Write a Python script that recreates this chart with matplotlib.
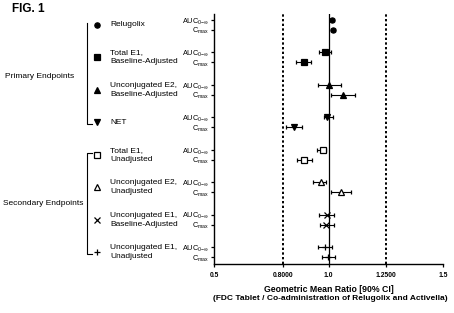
import matplotlib
matplotlib.use('Agg')
import matplotlib.pyplot as plt
import matplotlib.transforms as mtransforms

plt.rcParams['font.family'] = ['Liberation Sans', 'DejaVu Sans']
plt.rcParams['mathtext.fontset'] = 'custom'
plt.rcParams['mathtext.rm'] = 'Liberation Sans'
plt.rcParams['mathtext.it'] = 'Liberation Sans:italic'
plt.rcParams['mathtext.bf'] = 'Liberation Sans:bold'

# endpoints (one group each, AUC then Cmax)
names = ['Relugolix', 'Total E1,\nBaseline-Adjusted', 'Unconjugated E2,\nBaseline-Adjusted',
         'NET', 'Total E1,\nUnadjusted', 'Unconjugated E2,\nUnadjusted',
         'Unconjugated E1,\nBaseline-Adjusted', 'Unconjugated E1,\nUnadjusted']
markers = ['o', 's', '^', 'v', 's', '^', 'x', '+']
filled = [True, True, True, True, False, False, True, True]

auc_gmr = [1.014, 0.985, 1.002, 0.995, 0.977, 0.966, 0.992, 0.986]
auc_lo  = [1.006, 0.960, 0.955, 0.982, 0.950, 0.934, 0.957, 0.953]
auc_hi  = [1.022, 1.011, 1.056, 1.018, 0.989, 0.990, 1.025, 1.014]
cmax_gmr = [1.021, 0.894, 1.063, 0.848, 0.894, 1.055, 0.990, 0.999]
cmax_lo  = [1.012, 0.858, 1.011, 0.813, 0.864, 1.010, 0.963, 0.972]
cmax_hi  = [1.030, 0.924, 1.114, 0.886, 0.927, 1.098, 1.023, 1.028]

xticks = [0.5, 0.8, 1.0, 1.25, 1.5]
xticklabels = ['0.5', '0.8000', '1.0', '1.2500', '1.5']

W, H = 454, 313
fig = plt.figure(figsize=(W / 100, H / 100), dpi=100)
ax = fig.add_axes([214 / W, 1 - 264 / H, (443 - 214) / W, (264 - 14) / H])

pitch = 3.3
y_auc = [i * pitch for i in range(len(names))]
y_cmax = [y + 1 for y in y_auc]
y_mid = [y + 0.5 for y in y_auc]

for i in range(len(names)):
    fc = 'black' if filled[i] else 'white'
    for y, g, lo, hi in [(y_auc[i], auc_gmr[i], auc_lo[i], auc_hi[i]),
                         (y_cmax[i], cmax_gmr[i], cmax_lo[i], cmax_hi[i])]:
        ax.errorbar(g, y, xerr=[[g - lo], [hi - g]], fmt=markers[i], color='black',
                    mfc=fc, mec='black', ms=3.7, mew=0.9, elinewidth=0.8,
                    capsize=1.5, capthick=0.8, zorder=3)

ax.axvline(1.0, color='black', lw=0.9, zorder=2)
for xv in [0.8, 1.25]:
    ax.axvline(xv, color='black', lw=1.4, ls=(0, (1.2, 1.2)), zorder=1)

ax.set_xlim(0.5, 1.5)
ax.set_ylim(24.8, -0.6)
ax.set_xticks(xticks)
ax.set_xticklabels(xticklabels, fontsize=4.9, fontweight='bold')
yt = []
ytl = []
for i in range(len(names)):
    yt += [y_auc[i], y_cmax[i]]
    ytl += [r'AUC$_{0\mathrm{-}\infty}$', r'C$_{\mathrm{max}}$']
ax.set_yticks(yt)
ax.set_yticklabels(ytl, fontsize=5.3)
ax.tick_params(axis='both', length=2.5, width=0.9, pad=1.2)
ax.tick_params(axis='x', pad=3.5)
for s in ['top', 'right']:
    ax.spines[s].set_visible(False)
for s in ['left', 'bottom']:
    ax.spines[s].set_linewidth(1.0)

# labels on the left side
tr = mtransforms.blended_transform_factory(fig.transFigure, ax.transData)
for i in range(len(names)):
    fc = 'black' if filled[i] else 'white'
    ax.plot([97 / W], [y_mid[i]], marker=markers[i], ms=3.8, mfc=fc, mec='black',
            mew=0.9, color='black', transform=tr, clip_on=False)
    ax.text(110 / W, y_mid[i], names[i], transform=tr, fontsize=6.0,
            va='center', ha='left', linespacing=1.45)

# brackets
ax.plot([87 / W, 87 / W, 92 / W], [y_mid[0] - 0.2, y_mid[3] + 0.2, y_mid[3] + 0.2],
        color='black', lw=0.8, transform=tr, clip_on=False)
ax.plot([92 / W, 87 / W, 87 / W, 92 / W],
        [y_mid[4] - 0.2, y_mid[4] - 0.2, y_mid[7] + 0.2, y_mid[7] + 0.2],
        color='black', lw=0.8, transform=tr, clip_on=False)
ax.text(5 / W, (y_mid[0] + y_mid[3]) / 2 + 0.3, 'Primary Endpoints', transform=tr,
        fontsize=6.0, va='center', ha='left')
ax.text(3 / W, (y_mid[4] + y_mid[7]) / 2, 'Secondary Endpoints', transform=tr,
        fontsize=6.0, va='center', ha='left')

fig.text(12 / W, 1 - 9 / H, 'FIG. 1', fontsize=8.5, fontweight='bold', va='center', ha='left')
fig.text(329 / W, 1 - 290 / H, 'Geometric Mean Ratio [90% CI]', fontsize=6.3,
         fontweight='bold', ha='center', va='center')
fig.text(330 / W, 1 - 299 / H, '(FDC Tablet / Co-administration of Relugolix and Activella)',
         fontsize=6.0, fontweight='bold', ha='center', va='center')

fig.savefig('out.png', dpi=100)
